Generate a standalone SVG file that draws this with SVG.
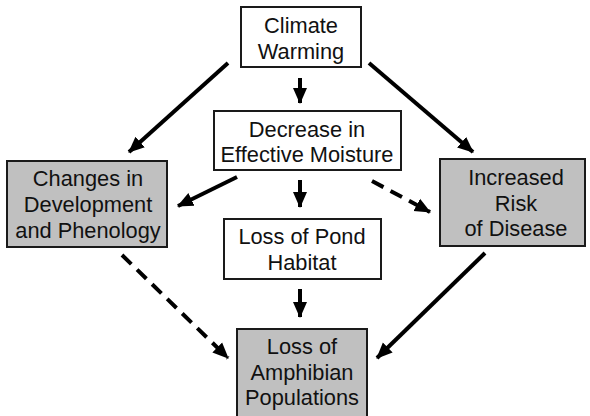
<svg xmlns="http://www.w3.org/2000/svg" width="590" height="416" viewBox="0 0 590 416">
<defs>
<style>
.box{stroke:#1a1a1a;stroke-width:2}
.w{fill:#ffffff}
.g{fill:#c0c0c0}
text{font-family:"Liberation Sans",Arial,sans-serif;font-size:21.8px;fill:#111;text-anchor:middle}
.c{stroke:#000;stroke-width:4;fill:none;marker-end:url(#ah)}
.d{stroke-dasharray:13 8}
</style>
<marker id="ah" markerUnits="userSpaceOnUse" markerWidth="16" markerHeight="16" viewBox="0 0 16 16" refX="15" refY="8" orient="auto">
<path d="M0,1 L16,8 L0,15 z" fill="#000"/>
</marker>
</defs>
<rect width="590" height="416" fill="#fff"/>
<g id="connectors">
<line class="c" x1="228" y1="63" x2="129" y2="152"/>
<line class="c" x1="369" y1="63" x2="473" y2="152"/>
<line class="c" x1="300" y1="78" x2="300" y2="103"/>
<line class="c" x1="237" y1="177" x2="178" y2="206"/>
<line class="c d" x1="372" y1="181" x2="430" y2="212"/>
<line class="c" x1="300" y1="180" x2="300" y2="207"/>
<line class="c" x1="300" y1="289" x2="300" y2="317"/>
<line class="c d" x1="122" y1="255" x2="228" y2="358"/>
<line class="c" x1="485" y1="253" x2="377" y2="358"/>
</g>
<g id="climate">
<rect class="box w" x="241" y="7" width="120" height="60"/>
<text x="301" y="33">Climate</text>
<text x="301" y="59">Warming</text>
</g>
<g id="moisture">
<rect class="box w" x="214" y="111" width="187" height="59"/>
<text x="307" y="137">Decrease in</text>
<text x="307" y="162">Effective Moisture</text>
</g>
<g id="development">
<rect class="box g" x="7" y="161" width="160" height="86"/>
<text x="88" y="186">Changes in</text>
<text x="88" y="212">Development</text>
<text x="88" y="238">and Phenology</text>
</g>
<g id="disease">
<rect class="box g" x="440" y="159" width="145" height="87"/>
<text x="516" y="185">Increased</text>
<text x="516" y="211">Risk</text>
<text x="516" y="236">of Disease</text>
</g>
<g id="pond">
<rect class="box w" x="224" y="219" width="157" height="60"/>
<text x="302" y="244">Loss of Pond</text>
<text x="302" y="270">Habitat</text>
</g>
<g id="amphibian">
<rect class="box g" x="237" y="329" width="130" height="92"/>
<text x="302" y="354">Loss of</text>
<text x="302" y="380">Amphibian</text>
<text x="302" y="405">Populations</text>
</g>
</svg>
